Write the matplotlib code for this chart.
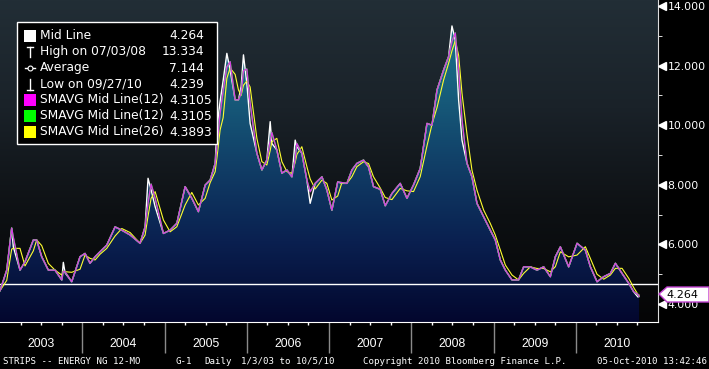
import numpy as np
import pandas as pd
import matplotlib
matplotlib.use("Agg")
import matplotlib.pyplot as plt
from matplotlib.colors import LinearSegmentedColormap
from matplotlib.patches import PathPatch, Rectangle, Polygon
from matplotlib.transforms import blended_transform_factory, ScaledTranslation

# mid line readings (decimal year, price) taken off the chart
years = [
    2003.000, 2003.082, 2003.142, 2003.162, 2003.243, 2003.304, 2003.405, 2003.446,
    2003.507, 2003.588, 2003.669, 2003.751, 2003.770, 2003.791, 2003.872, 2003.973,
    2004.034, 2004.095, 2004.156, 2004.217, 2004.298, 2004.399, 2004.481, 2004.582,
    2004.703, 2004.764, 2004.800, 2004.837, 2004.886, 2004.987, 2005.068, 2005.150,
    2005.251, 2005.332, 2005.412, 2005.494, 2005.555, 2005.616, 2005.640, 2005.676,
    2005.713, 2005.758, 2005.798, 2005.859, 2005.899, 2005.932, 2005.960, 2006.001,
    2006.041, 2006.123, 2006.184, 2006.244, 2006.285, 2006.305, 2006.366, 2006.427,
    2006.488, 2006.549, 2006.589, 2006.609, 2006.670, 2006.731, 2006.771, 2006.832,
    2006.914, 2006.974, 2007.035, 2007.106, 2007.157, 2007.218, 2007.279, 2007.339,
    2007.420, 2007.481, 2007.541, 2007.623, 2007.684, 2007.765, 2007.866, 2007.948,
    2008.028, 2008.109, 2008.191, 2008.252, 2008.313, 2008.393, 2008.454, 2008.495,
    2008.535, 2008.576, 2008.617, 2008.678, 2008.738, 2008.799, 2008.880, 2008.961,
    2009.022, 2009.083, 2009.144, 2009.225, 2009.305, 2009.366, 2009.448, 2009.529,
    2009.610, 2009.691, 2009.752, 2009.813, 2009.914, 2010.016, 2010.117, 2010.178,
    2010.259, 2010.340, 2010.421, 2010.482, 2010.563, 2010.644, 2010.705, 2010.756,
    2010.770,
]
mid = [
    4.45, 5.14, 6.55, 5.92, 5.14, 5.42, 6.15, 6.15,
    5.59, 5.14, 5.14, 4.81, 5.40, 5.05, 4.75, 5.59,
    5.70, 5.37, 5.59, 5.76, 5.98, 6.59, 6.48, 6.32,
    6.04, 6.59, 8.22, 7.83, 7.27, 6.37, 6.48, 6.71,
    7.94, 7.55, 7.10, 7.99, 8.16, 8.72, 10.00, 10.80,
    11.50, 12.41, 11.85, 10.85, 10.85, 11.30, 12.36, 11.41,
    10.06, 9.06, 8.50, 8.83, 10.12, 9.39, 9.17, 8.39,
    8.50, 8.27, 9.50, 9.28, 9.06, 8.16, 7.38, 8.05,
    8.27, 7.83, 7.15, 8.10, 8.05, 8.05, 8.50, 8.72,
    8.83, 8.60, 7.94, 7.85, 7.30, 7.71, 8.05, 7.55,
    8.00, 8.55, 10.06, 10.00, 11.18, 11.85, 12.30, 13.33,
    12.86, 10.85, 9.50, 8.72, 8.27, 7.38, 6.93, 6.48,
    6.15, 5.48, 5.14, 4.81, 4.81, 5.25, 5.25, 5.14,
    5.25, 4.92, 5.59, 5.92, 5.25, 6.04, 5.81, 5.25,
    4.75, 4.92, 5.03, 5.37, 5.03, 4.70, 4.41, 4.24,
    4.264,
]
ref_level = 4.66
last_value = "4.264"
legend_rows = ["Mid Line", "High on 07/03/08", "Average", "Low on 09/27/10",
               "SMAVG Mid Line(12)", "SMAVG Mid Line(12)", "SMAVG Mid Line(26)"]
legend_vals = ["4.264", "13.334", "7.144", "4.239", "4.3105", "4.3105", "4.3893"]
year_labels = [str(y) for y in range(2003, 2011)]
y_major = [4, 6, 8, 10, 12, 14]
y_minor = [5, 7, 9, 11, 13]

# moving averages on the mid line
t = pd.Timestamp("2003-01-01") + pd.to_timedelta((np.array(years) - 2003) * 365.25, unit="D")
s = pd.Series(mid, index=t)
sma12 = s.rolling("20D").mean().values
sma26 = s.rolling("40D").mean().values

W, H = 709, 369
fig = plt.figure(figsize=(W / 100, H / 100), dpi=100, facecolor="black")
ax = fig.add_axes([0, 1 - 322 / H, 658 / W, 322 / H])
ax.set_xlim(2003, 2011)
ax.set_ylim(3.4, 14.2)
ax.set_facecolor("black")

# background gradient
bg = LinearSegmentedColormap.from_list("bg", ["#050506", "#0d1013", "#1a2229", "#222e36"])
ax.imshow(np.linspace(0, 1, 256).reshape(-1, 1), cmap=bg, aspect="auto",
          extent=(2003, 2011, 3.4, 14.2), origin="lower", zorder=0)

# area fill with vertical gradient
fill = ax.fill_between(years, mid, 3.4, color="none", lw=0)
clip = PathPatch(fill.get_paths()[0], transform=ax.transData, fc="none", ec="none")
ax.add_patch(clip)
fg = LinearSegmentedColormap.from_list("fg", ["#03072e", "#0a2050", "#114068", "#18627f", "#1f7690"])
im = ax.imshow(np.linspace(0, 1, 256).reshape(-1, 1), cmap=fg, aspect="auto",
               extent=(2003, 2011, 3.4, 14.2), origin="lower", zorder=1)
im.set_clip_path(clip)

ax.axhline(ref_level, color="white", lw=1.0, zorder=2)
ax.plot(years, mid, color="white", lw=1.0, zorder=3)
ax.plot(years, sma26, color="#ffff30", lw=0.8, zorder=4)
ax.plot(years, sma12, color="#00ff00", lw=1.0, zorder=4)
ax.plot(years, sma12, color="#d83ee6", lw=1.0, zorder=5)

# axes styling
for side in ["top", "left"]:
    ax.spines[side].set_visible(False)
ax.spines["bottom"].set_color("white")
ax.spines["right"].set_color("#dddddd")
ax.yaxis.tick_right()
ax.set_yticks(y_major)
ax.set_yticks(y_minor, minor=True)
ax.set_yticklabels([f"{v:.3f}" for v in y_major])
ax.tick_params(axis="y", which="major", length=0, pad=7, labelcolor="white", labelsize=7.8)
ax.tick_params(axis="y", which="minor", length=3, color="white", direction="out")
trans = blended_transform_factory(ax.transAxes, ax.transData) + ScaledTranslation(0.04, 0, fig.dpi_scale_trans)
ax.plot([1] * len(y_major), y_major, ls="none", marker="<", ms=6, color="white",
        transform=trans, clip_on=False, zorder=6)

ax.set_xticks(range(2004, 2011))
ax.set_xticks([y + q / 4 for y in range(2003, 2011) for q in (1, 2, 3)], minor=True)
ax.set_xticklabels([])
ax.tick_params(axis="x", which="major", length=22, width=1, color="#8a8a8a", direction="out")
ax.tick_params(axis="x", which="minor", length=2.5, width=1, color="white", direction="out")
xt = blended_transform_factory(ax.transData, fig.transFigure)
for i, lab in enumerate(year_labels):
    ax.text(2003.5 + i, 1 - 344 / H, lab, transform=xt, color="white", fontsize=8.8,
            family="Liberation Sans", ha="center", va="center")

# overlay in pixel units for legend and captions
ov = fig.add_axes([0, 0, 1, 1], facecolor="none")
ov.set_xlim(0, W)
ov.set_ylim(H, 0)
ov.axis("off")

ov.add_patch(Rectangle((17.3, 21.7), 200, 122.3, fc="black", ec="white", lw=1))
row_y = [35.7, 51.7, 68.0, 84.0, 100.0, 116.0, 132.0]
for i, (lab, val) in enumerate(zip(legend_rows, legend_vals)):
    y = row_y[i]
    ov.text(39.5, y, lab, color="white", fontsize=8.8, va="center", ha="left")
    xr = 204 if i < 4 else 211.7
    ov.text(xr, y, val, color="white", fontsize=8.8, va="center", ha="right")
ov.add_patch(Rectangle((24, 30), 11.5, 11.5, fc="white", ec="none"))
# high / average / low symbols
ov.plot([29.7, 29.7], [46.5, 57], color="white", lw=1)
ov.plot([26.5, 33], [46.5, 46.5], color="white", lw=1)
ov.plot([24.5, 35], [68, 68], color="white", lw=1)
ov.plot([29.7], [68], marker="o", ms=3.5, mfc="black", mec="white", mew=0.8)
ov.plot([29.7, 29.7], [78.5, 89.5], color="white", lw=1)
ov.plot([26.5, 33], [89.5, 89.5], color="white", lw=1)
for y, c in zip(row_y[4:], ["#ff00ff", "#00ff00", "#ffff00"]):
    ov.add_patch(Rectangle((24, y - 5.7), 11.5, 11.5, fc=c, ec="none"))

# last value tag
ov.add_patch(Polygon([(659, 294), (667, 287), (709, 287), (709, 302), (667, 302)],
                     closed=True, fc="white", ec="#c040d0", lw=1))
ov.text(666, 295, last_value, color="black", fontsize=8, va="center", ha="left")

# caption line
cap = dict(color="white", fontsize=6.6, family="DejaVu Sans Mono", va="center", ha="left")
ov.text(3, 361, "STRIPS -- ENERGY NG 12-MO", **cap)
ov.text(175, 361, "G-1", **cap)
ov.text(204, 361, "Daily", **cap)
ov.text(241, 361, "1/3/03 to 10/5/10", **cap)
ov.text(363, 361, "Copyright 2010 Bloomberg Finance L.P.", **cap)
ov.text(707, 361, "05-Oct-2010 13:42:46", **dict(cap, ha="right"))

fig.savefig("out.png", dpi=100, facecolor="black")
